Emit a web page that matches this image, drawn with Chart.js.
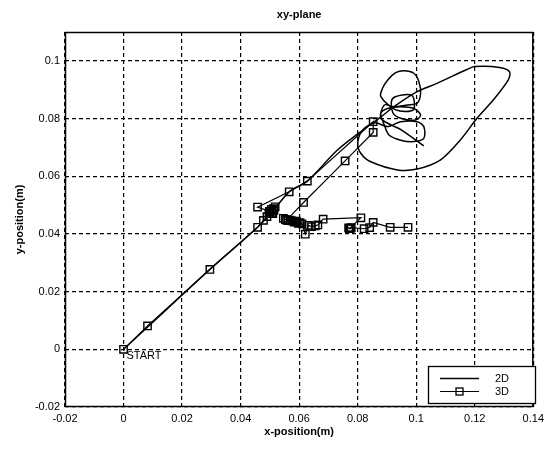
<!DOCTYPE html>
<html>
<head>
<meta charset="utf-8">
<script src="https://cdn.jsdelivr.net/npm/chart.js@4/dist/chart.umd.min.js"></script>
<style>
  html, body { margin: 0; padding: 0; background: #fff; }
  #wrap { width: 549px; height: 450px; }
</style>
</head>
<body>
<div id="wrap"><canvas id="c" width="549" height="450"></canvas></div>
<script>
// ---- data ----
const xTicks = [-0.02, 0, 0.02, 0.04, 0.06, 0.08, 0.1, 0.12, 0.14];
const yTicks = [-0.02, 0, 0.02, 0.04, 0.06, 0.08, 0.1];

const x2D = [0, 0.015, 0.0295, 0.0458, 0.0515, 0.0566, 0.0628, 0.0730, 0.0820, 0.0880, 0.0924, 0.1003, 0.1071,
  0.1173, 0.1200, 0.1285, 0.1319, 0.1314, 0.1263, 0.1207, 0.1150, 0.1082, 0.1003, 0.0936, 0.0845, 0.0811,
  0.0800, 0.0817, 0.0860, 0.0902, 0.0947, 0.1003, 0.1026, 0.1026, 0.0992, 0.0947, 0.0907, 0.0890, 0.0879,
  0.0902, 0.0947, 0.0992, 0.1015, 0.0998, 0.0950, 0.0920, 0.0920, 0.0985, 0.0990, 0.0930, 0.0879, 0.0885,
  0.0902, 0.0930, 0.0958, 0.0992, 0.1009, 0.1015, 0.1003, 0.0970, 0.0924, 0.0891, 0.0880, 0.0950, 0.1026];
const y2D = [0, 0.0141, 0.0277, 0.0423, 0.0485, 0.0546, 0.0583, 0.0690, 0.0762, 0.0806, 0.0841, 0.0893, 0.0922,
  0.0970, 0.0980, 0.0977, 0.0962, 0.0933, 0.0864, 0.0800, 0.0725, 0.0656, 0.0625, 0.0622, 0.0650, 0.0679,
  0.0714, 0.0760, 0.0785, 0.0772, 0.0789, 0.0789, 0.0772, 0.0731, 0.0720, 0.0725, 0.0743, 0.0780, 0.0818,
  0.0835, 0.0841, 0.0835, 0.0812, 0.0795, 0.0800, 0.0820, 0.0870, 0.0880, 0.0830, 0.0830, 0.0876, 0.0905,
  0.0933, 0.0959, 0.0966, 0.0957, 0.0928, 0.0887, 0.0853, 0.0847, 0.0841, 0.0847, 0.0800, 0.0760, 0.0705];

const x3D = [0, 0.0082, 0.0295, 0.0458, 0.0478, 0.0490, 0.0497, 0.0501, 0.0506, 0.0510, 0.0514, 0.0518, 0.0512,
  0.0505, 0.0498, 0.0458, 0.0566, 0.0628, 0.0853, 0.0853, 0.0757, 0.0615, 0.0557, 0.0546, 0.0553, 0.0562,
  0.0569, 0.0575, 0.0583, 0.0590, 0.0597, 0.0591, 0.0603, 0.0610, 0.0621, 0.0632, 0.0642, 0.0655, 0.0664,
  0.0682, 0.0811, 0.0772, 0.0769, 0.0775, 0.0778, 0.0822, 0.0841, 0.0853, 0.0911, 0.0972];
const y3D = [0, 0.0081, 0.0277, 0.0423, 0.0447, 0.0460, 0.0470, 0.0477, 0.0472, 0.0470, 0.0482, 0.0494, 0.0488,
  0.0485, 0.0478, 0.0493, 0.0546, 0.0583, 0.0789, 0.0752, 0.0653, 0.0509, 0.0448, 0.0454, 0.0450, 0.0446,
  0.0448, 0.0445, 0.0441, 0.0444, 0.0437, 0.0442, 0.0439, 0.0435, 0.0399, 0.0430, 0.0425, 0.0428, 0.0431,
  0.0451, 0.0456, 0.0418, 0.0421, 0.0419, 0.0422, 0.0418, 0.0422, 0.0440, 0.0423, 0.0423];

const seriesNames = ['2D', '3D'];
const titleText = 'xy-plane';
const xTitle = 'x-position(m)';
const yTitle = 'y-position(m)';
const startLabel = 'START';

// ---- build ----
const pts = (xs, ys) => xs.map((v, i) => ({ x: v, y: ys[i] }));
const fmt = v => { const r = Math.round(v * 100) / 100; return String(r); };
const FONT = '"Liberation Sans", Arial, sans-serif';

const decor = {
  id: 'decor',
  afterDraw(chart) {
    const { ctx, chartArea: a, scales } = chart;
    ctx.save();
    // frame
    ctx.strokeStyle = '#000';
    ctx.lineWidth = 1.5;
    ctx.setLineDash([]);
    ctx.strokeRect(a.left + 0.5, a.top + 0.5, a.right - a.left - 1, a.bottom - a.top - 1);
    ctx.fillStyle = '#000';
    // title
    ctx.font = 'bold 11px ' + FONT;
    ctx.textAlign = 'center';
    ctx.textBaseline = 'middle';
    ctx.fillText(titleText, (a.left + a.right) / 2, 15);
    // x title
    ctx.fillText(xTitle, (a.left + a.right) / 2, 432);
    // y title
    ctx.save();
    ctx.translate(20, (a.top + a.bottom) / 2);
    ctx.rotate(-Math.PI / 2);
    ctx.fillText(yTitle, 0, 0);
    ctx.restore();
    // START label
    ctx.font = '11px ' + FONT;
    ctx.textAlign = 'left';
    ctx.textBaseline = 'middle';
    ctx.fillText(startLabel, scales.x.getPixelForValue(x2D[0]) + 3, scales.y.getPixelForValue(y2D[0]) + 7);
    // legend
    const lx = 428, ly = 366, lw = 107, lh = 37;
    ctx.fillStyle = '#fff';
    ctx.fillRect(lx, ly, lw, lh);
    ctx.strokeStyle = '#000';
    ctx.lineWidth = 1.3;
    ctx.strokeRect(lx + 0.5, ly + 0.5, lw, lh);
    const rows = [ly + 12, ly + 25];
    chart.data.datasets.forEach((ds, i) => {
      const yy = rows[i] + 0.5;
      ctx.strokeStyle = ds.borderColor;
      ctx.lineWidth = ds.borderWidth;
      ctx.beginPath();
      ctx.moveTo(440, yy);
      ctx.lineTo(479, yy);
      ctx.stroke();
      if (ds.pointRadius > 0) {
        ctx.lineWidth = 1.3;
        const s = 7;
        ctx.strokeRect(459.5 - s / 2, yy - s / 2, s, s);
      }
      ctx.fillStyle = '#000';
      ctx.font = '11px ' + FONT;
      ctx.textAlign = 'right';
      ctx.fillText(ds.label, 509, rows[i] + 1);
    });
    ctx.restore();
  }
};

new Chart(document.getElementById('c'), {
  type: 'scatter',
  data: {
    datasets: [
      {
        label: seriesNames[0],
        data: pts(x2D, y2D),
        showLine: true,
        borderColor: '#000',
        borderWidth: 1.5,
        pointRadius: 0,
        tension: 0.3
      },
      {
        label: seriesNames[1],
        data: pts(x3D, y3D),
        showLine: true,
        borderColor: '#000',
        borderWidth: 1.2,
        pointStyle: 'rect',
        pointRadius: 5.2,
        pointBorderWidth: 1.4,
        pointBorderColor: '#000',
        pointBackgroundColor: 'rgba(0,0,0,0)',
        tension: 0
      }
    ]
  },
  options: {
    responsive: false,
    animation: false,
    devicePixelRatio: 1,
    layout: { padding: { top: 32, right: 12, left: 0, bottom: 0 } },
    plugins: {
      legend: { display: false },
      title: { display: false },
      tooltip: { enabled: false }
    },
    scales: {
      x: {
        type: 'linear',
        min: -0.02,
        max: 0.14,
        afterBuildTicks: s => { s.ticks = xTicks.map(v => ({ value: v })); },
        afterFit: s => { s.height = 43; },
        ticks: {
          callback: v => fmt(v),
          color: '#000',
          font: { family: FONT, size: 11 },
          padding: 5,
          maxRotation: 0,
          autoSkip: false
        },
        grid: { color: '#000', lineWidth: 1.2, drawTicks: false },
        border: { display: false, dash: [4, 3] }
      },
      y: {
        type: 'linear',
        min: -0.02,
        max: 0.11,
        afterBuildTicks: s => { s.ticks = yTicks.map(v => ({ value: v })); },
        afterFit: s => { s.width = 65; },
        ticks: {
          callback: v => fmt(v),
          color: '#000',
          font: { family: FONT, size: 11 },
          padding: 5,
          autoSkip: false
        },
        grid: { color: '#000', lineWidth: 1.2, drawTicks: false },
        border: { display: false, dash: [4, 3] }
      }
    }
  },
  plugins: [decor]
});
</script>
</body>
</html>
